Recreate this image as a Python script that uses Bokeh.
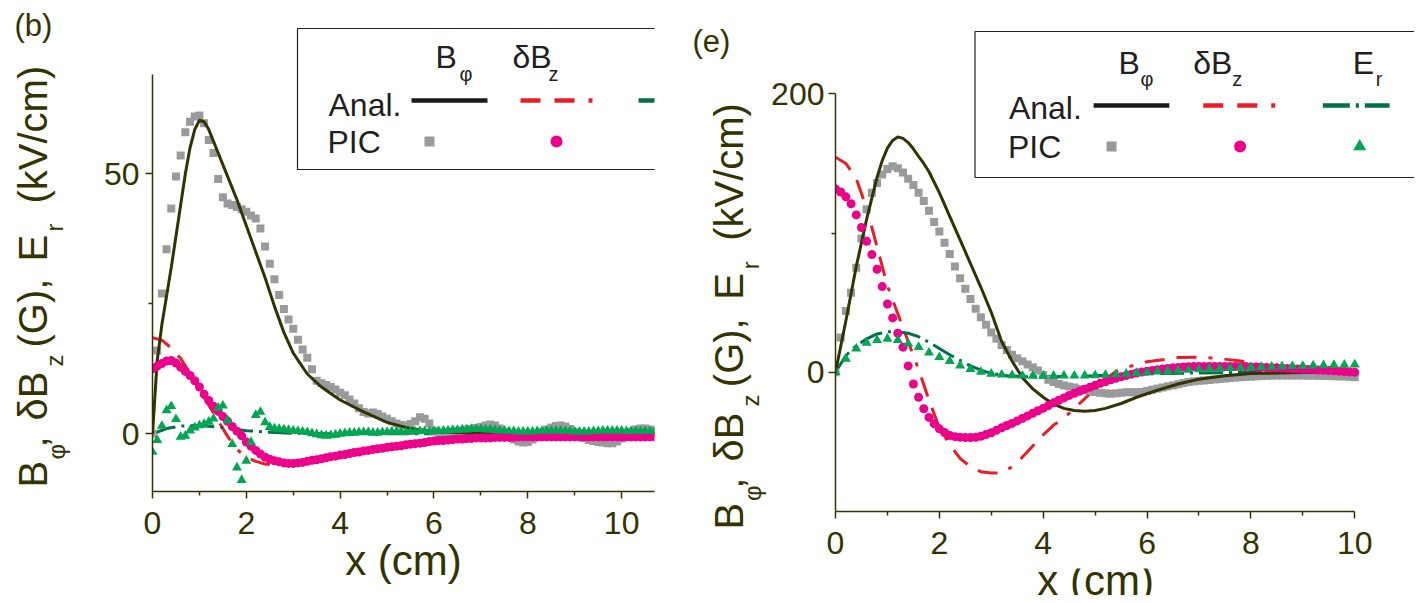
import numpy as np
from bokeh.plotting import figure
from bokeh.models import Range1d, FixedTicker
from bokeh.layouts import row, column
from bokeh.embed import file_html
from bokeh.resources import INLINE
from bokeh.core.properties import value

FONT = "Liberation Sans"
OLIVE = "#333300"
INK = "#231f20"
GRAY = "#999a9c"
MAGENTA = "#ec008c"
GREEN = "#00a651"
DKGREEN = "#00704a"
RED = "#ed1c24"

# ---------------- panel (b) data ----------------
b_anal_x_bphi = [0, 0.1, 0.2, 0.3, 0.4, 0.5, 0.6, 0.7, 0.8, 0.9, 1.0, 1.1, 1.2, 1.4, 1.6, 1.8, 2.0, 2.2,
                 2.4, 2.6, 2.8, 3.0, 3.3, 3.6, 4.0, 4.5, 5.0, 5.5, 6.0, 7.0, 8.0, 10.7]
b_anal_bphi = [0, 14, 21, 26.5, 32, 38, 44, 50, 55, 58.5, 60.3, 60, 58.5, 54, 49.5, 45, 40, 35,
               30, 24.5, 19.5, 15.5, 11.5, 9, 6.5, 4.2, 2.2, 1.0, 0.4, 0.1, 0, 0]
b_anal_x_dbz = [0, 0.2, 0.4, 0.6, 0.8, 1.0, 1.2, 1.4, 1.6, 1.8, 2.0, 2.2, 2.4, 2.6, 2.8, 3.0, 3.5,
                4.0, 4.5, 5.0, 6.0, 7.0, 8.0, 9.0, 10.0, 10.7]
b_anal_dbz = [18.5, 18, 16.5, 14.5, 11.5, 8.5, 5.5, 2.5, -0.5, -3, -4.5, -5.3, -5.8, -6.0, -6.0, -5.8,
              -5.0, -4.0, -3.0, -2.2, -1.2, -0.6, -0.3, -0.1, 0, 0]
b_anal_x_er = [0, 0.3, 0.6, 1.0, 1.5, 2.0, 2.5, 3.0, 4.0, 5.0, 6.0, 8.0, 10.7]
b_anal_er = [0, 1.0, 1.5, 1.6, 1.2, 0.6, 0.3, 0.1, 0, 0, 0, 0, 0]

# PIC samples every 0.1 cm from x = 0
b_pic_bphi = [0, 16, 27, 35.5, 43.3, 49.5, 53.5, 58, 60, 61, 61.2, 59.7, 56.5, 54, 49, 45.5, 44.3, 44,
              43.6, 43.2, 42.7, 42, 41.4, 39.5, 36, 32.7, 29.7, 26.7, 24, 22, 20.2, 18.1, 16.2, 14.6,
              12.4, 10.2, 9.7, 9.4, 9.0, 8.5, 7.9, 7.4, 6.6, 5.8, 4.9, 4.2, 3.9, 4.1, 3.8, 3.3, 2.9,
              2.4, 2.0, 1.7, 1.6, 1.9, 2.4, 3.2, 2.9, 2.0, 0.6, 0.2, 0.2, 0.3, 0.4, 0.5, 0.6, 0.8, 0.9,
              1.1, 1.3, 1.6, 1.8, 1.6, 1.0, 0.3, -0.5, -1.1, -1.5, -1.7, -1.6, -1.1, -0.4, 0.3, 0.8,
              1.2, 1.5, 1.6, 1.4, 0.9, 0.3, -0.3, -0.8, -1.2, -1.4, -1.6, -1.7, -1.8, -1.8, -1.5,
              -0.9, -0.2, 0.4, 0.8, 1.0, 1.0, 0.8, 0.6]
b_pic_dbz = [12.5, 13.0, 13.5, 14.0, 14.1, 13.6, 12.8, 12.0, 11.2, 10.2, 9.0, 7.6, 6.4, 5.3, 4.3, 3.3,
             2.4, 1.4, 0.5, -0.4, -1.6, -2.4, -3.2, -3.9, -4.5, -4.9, -5.2, -5.4, -5.6, -5.7, -5.7,
             -5.6, -5.5, -5.3, -5.1, -5.0, -4.8, -4.6, -4.4, -4.3, -4.1, -4.0, -3.8, -3.6, -3.5, -3.3,
             -3.2, -3.0, -2.9, -2.8, -2.6, -2.5, -2.4, -2.3, -2.1, -2.0, -1.9, -1.8, -1.7, -1.5, -1.4,
             -1.3, -1.3, -1.2, -1.1, -1.0, -1.0, -0.9, -0.9, -0.8, -0.8, -0.8, -0.8, -0.7, -0.7, -0.7,
             -0.7, -0.7, -0.6, -0.6, -0.6, -0.6, -0.6, -0.6, -0.6, -0.6, -0.6, -0.6, -0.6, -0.6, -0.6,
             -0.6, -0.6, -0.6, -0.6, -0.6, -0.6, -0.6, -0.6, -0.6, -0.6, -0.6, -0.6, -0.6, -0.6, -0.6,
             -0.6, -0.6]
b_pic_er = [-3.5, -1.2, 1.5, 4.5, 5.3, 2.8, -0.6, -0.4, 0.6, 1.2, 1.6, 1.9, 2.3, 2.9, 5.0, 5.4, 2.6,
            -2.0, -6.5, -8.9, -5.2, -1.6, 3.6, 4.2, 2.2, 1.3, 1.0, 0.9, 0.8, 0.7, 0.6, 0.5, 0.4, 0.3,
            0.1, -0.1, -0.3, -0.4, -0.3, -0.2, 0.0, 0.1, 0.2, 0.2, 0.3, 0.3, 0.3, 0.2, 0.2, 0.3, 0.3,
            0.4, 0.4, 0.3, 0.3, 0.4, 0.4, 0.5, 0.5, 0.4, 0.5, 0.5, 0.6, 0.6, 0.7, 0.7, 0.8, 0.8, 0.9,
            0.9, 0.9, 0.8, 0.8, 0.7, 0.6, 0.6, 0.5, 0.5, 0.4, 0.4, 0.4, 0.4, 0.5, 0.5, 0.6, 0.6, 0.6,
            0.6, 0.5, 0.5, 0.4, 0.4, 0.4, 0.4, 0.5, 0.5, 0.6, 0.6, 0.6, 0.6, 0.6, 0.5, 0.5, 0.5, 0.5,
            0.5, 0.5, 0.5]

# ---------------- panel (e) data ----------------
e_anal_x_bphi = [0, 0.2, 0.4, 0.6, 0.8, 0.9, 1.0, 1.1, 1.2, 1.3, 1.4, 1.5, 1.6, 1.7, 1.8, 2.0, 2.2, 2.4,
                 2.6, 2.8, 3.0, 3.2, 3.4, 3.6, 3.8, 4.0, 4.2, 4.4, 4.6, 4.8, 5.0, 5.2, 5.5, 5.8, 6.2,
                 6.6, 7.0, 7.5, 8.0, 9.0, 10.0]
e_anal_bphi = [0, 37, 76, 110, 140, 152, 161, 166.5, 169, 168, 165, 160.5, 155, 150, 144, 129, 112, 95,
               78, 61, 43, 22, 8, -4, -12, -18, -23, -26, -27.5, -28, -27.5, -26, -22.5, -18, -13,
               -8.5, -5, -2.5, -1, -0.3, 0]
e_anal_x_dbz = [0, 0.2, 0.4, 0.6, 0.8, 1.0, 1.2, 1.4, 1.6, 1.8, 2.0, 2.2, 2.4, 2.6, 2.8, 3.0, 3.2, 3.4,
                3.6, 3.8, 4.0, 4.2, 4.4, 4.6, 4.8, 5.0, 5.2, 5.4, 5.6, 5.8, 6.0, 6.3, 6.6, 7.0, 7.4, 7.8,
                8.2, 8.6, 9.0, 9.5, 10.0]
e_anal_dbz = [154.5, 150, 139, 118, 90, 62, 42, 22, 2, -20, -40, -52, -62, -68, -71.5, -72.5, -72.5,
              -68, -61, -53, -45, -38, -33, -26, -19, -12, -5, 0.5, 3.5, 5.5, 7.5, 9, 10.5, 10.8, 9.8,
              8, 5, 3, 1.5, 0.5, 0]
e_anal_x_er = [0, 0.2, 0.4, 0.6, 0.8, 1.0, 1.2, 1.4, 1.6, 1.8, 2.0, 2.2, 2.4, 2.6, 2.8, 3.0, 3.3, 3.6,
               4.0, 4.5, 5.0, 5.5, 6.0, 7.0, 8.0, 9.0, 10.0]
e_anal_er = [0, 12, 19, 24, 27.5, 29, 29, 28, 25.5, 21.5, 17, 12.5, 8.5, 4.5, 1.5, -1, -2.5, -3.2,
             -3.3, -3, -2.5, -1.8, -1.2, -0.5, -0.2, 0, 0]

# PIC samples every 0.1 cm (B_phi, dB_z) and every 0.2 cm (E_r)
e_pic_bphi = [0, 25, 44, 57, 75, 96, 117, 129, 136, 142, 146, 148, 146.5, 143.5, 139, 134.5, 129, 123,
              116, 108, 101, 93, 85, 76, 67.5, 60, 52.5, 45.5, 39.5, 34, 28.5, 24, 19.5, 16, 12.5, 10,
              7.8, 5.5, 3.5, 1.2, -2, -5.5, -7, -8.5, -9.5, -10.3, -11, -12, -12.8, -13.5, -14.3,
              -14.8, -15.2, -15.5, -15.2, -14.8, -14.4, -14.4, -14.4, -14.2, -13.5, -12.6, -11.8, -11,
              -10.2, -9.5, -8.7, -7.8, -7.1, -6.6, -6.2, -5.9, -5.6, -5.2, -4.9, -4.6, -4.2, -3.9, -3.6,
              -3.4, -3.2, -3.0, -2.8, -2.6, -2.5, -2.4, -2.4, -2.4, -2.4, -2.4, -2.4, -2.5, -2.5, -2.6,
              -2.7, -2.8, -2.9, -3.0, -3.1, -3.3, -3.6]
e_pic_dbz = [131.7, 129.5, 126, 121, 113, 104, 94, 84.5, 74, 61.5, 49, 39, 28, 18, 4.5, -8.5, -18,
             -26.3, -32.5, -37, -40.7, -43.3, -45.5, -46.3, -46.7, -47, -47, -46.8, -46, -44.8, -43.5,
             -41.8, -40, -38.3, -36.8, -35, -33.2, -31.4, -29.5, -27.7, -26, -24, -22, -20.2, -18.5,
             -16.7, -15.2, -13.7, -12.2, -10.8, -9.4, -8, -6.8, -5.5, -4.4, -3.3, -2.3, -1.4, -0.6, 0.1,
             0.7, 1.3, 1.8, 2.3, 2.7, 3.1, 3.4, 3.7, 3.9, 4.0, 4.1, 4.1, 4.1, 4.1, 4.1, 4.1, 4.1, 4.1,
             4.1, 4.1, 3.8, 3.7, 3.5, 3.4, 3.2, 3.1, 2.9, 2.7, 2.5, 2.3, 2.1, 2.0, 1.8, 1.6, 1.4, 1.2,
             1.0, 0.7, 0.5, 0.2, 0]
e_pic_er = [0, 9.5, 17, 21, 23, 24, 23, 20.5, 18, 14, 10.8, 8, 4.8, 2.2, 0.2, -1.2, -1.8, -2.2, -2.5,
            -2.6, -2.6, -2.6, -2.5, -2.5, -2.4, -2.3, -2.0, -1.6, -1.2, -0.6, -0.2, 0.4, 0.8, 1.2, 1.6,
            2.0, 2.4, 2.6, 2.9, 3.2, 3.5, 3.7, 3.9, 4.1, 4.3, 4.5, 4.7, 4.9, 5.1, 5.3, 5.5]

x_ticks = [0, 2, 4, 6, 8, 10]
x_minor = [1, 3, 5, 7, 9]
H = 595


def grid(vals, step):
    return np.round(np.arange(len(vals)) * step, 3)


def make_fig(width, height, xr, yr, ybounds, xbounds, borders, px, py, yticks, yminor):
    p = figure(width=width, height=height, x_range=Range1d(*xr), y_range=Range1d(*yr),
               output_backend="svg", toolbar_location=None,
               min_border_left=borders[0], min_border_right=borders[1],
               min_border_top=borders[2], min_border_bottom=borders[3])
    p.extra_x_ranges = {"px": Range1d(*px)}
    p.extra_y_ranges = {"py": Range1d(*py)}
    p.grid.visible = False
    p.outline_line_color = None
    p.background_fill_color = "white"
    p.border_fill_color = "white"
    p.xaxis.ticker = FixedTicker(ticks=x_ticks, minor_ticks=x_minor)
    p.yaxis.ticker = FixedTicker(ticks=yticks, minor_ticks=yminor)
    p.yaxis.bounds = ybounds
    if xbounds is not None:
        p.xaxis.bounds = xbounds
    for ax in (p.xaxis, p.yaxis):
        ax.axis_line_color = OLIVE
        ax.axis_line_width = 1.5
        ax.major_tick_line_color = OLIVE
        ax.major_tick_line_width = 1.5
        ax.minor_tick_line_color = OLIVE
        ax.minor_tick_line_width = 1.5
        ax.major_tick_out = 7
        ax.major_tick_in = 0
        ax.minor_tick_out = 4
        ax.minor_tick_in = 0
        ax.major_label_text_font = FONT
        ax.major_label_text_font_size = "32px"
        ax.major_label_text_color = OLIVE
    p.yaxis.major_label_standoff = 6
    return p


def text_fig(x0, x1, y0, y1, borders=(0, 0, 0, 0)):
    w = x1 - x0 + borders[0] + borders[1]
    h = y1 - y0 + borders[2] + borders[3]
    t = figure(width=w, height=h, x_range=Range1d(x0, x1), y_range=Range1d(y1, y0),
               output_backend="svg", toolbar_location=None,
               min_border_left=borders[0], min_border_right=borders[1],
               min_border_top=borders[2], min_border_bottom=borders[3],
               x_axis_type=None, y_axis_type=None)
    t.grid.visible = False
    t.outline_line_color = None
    t.background_fill_color = "white"
    t.border_fill_color = "white"
    return t


def txt(p, x, y, text, size, angle=0.0, align="left", color=OLIVE, **kw):
    # (x, y): baseline point in reference pixels; drawn with a 'middle' baseline
    off = 0.32 * size
    if angle:
        x = x - off
    else:
        y = y - off
    p.text(x=[x], y=[y], text=[text], angle=angle, text_font=value(FONT),
           text_font_size=value(f"{size}px"), text_color=color, text_align=align,
           text_baseline="middle", **kw)


# y-axis title pieces: (text, font px, start position along the axis, offset from baseline)
title_pieces = [("B", 40, 487, 0), ("\u03c6", 24, 459, 19), (",", 40, 447, 0), ("\u03b4B", 40, 420, 0),
                ("z", 24, 366, 17), ("(G),", 40, 347, 0), ("E", 40, 261, 0), ("r", 24, 231, 17),
                ("(kV/cm)", 40, 203, 0)]


def ytitle(t, base, shift, stretch):
    a = np.pi / 2
    for s_, size, y0, dx in title_pieces:
        yy = y0 + shift - (487 - y0) * stretch
        txt(t, base + dx, yy, s_, size, angle=a)


def draw(p, ax_b, yb, ax_d, yd, ax_e, ye, pb, pd, pe, er_step):
    p.line(ax_d, yd, line_color=RED, line_width=3, line_dash="20 12 20 12 4 12")
    p.line(ax_e, ye, line_color=DKGREEN, line_width=3, line_dash="24 6 3 6")
    p.scatter(grid(pb, 0.1), pb, marker="square", size=8, fill_color=GRAY, line_color=None)
    p.line(ax_b, yb, line_color=OLIVE, line_width=3)
    p.scatter(grid(pd, 0.1), pd, marker="circle", size=9, fill_color=MAGENTA, line_color=None)
    p.scatter(grid(pe, er_step), pe, marker="triangle", size=10, fill_color=GREEN, line_color=None)


def legend(p, L, T, B, o, show_er_head=True):
    kw = dict(x_range_name="px", y_range_name="py")
    p.quad(left=[L], right=[L + 470], top=[T], bottom=[B], fill_color="white",
           line_color=INK, line_width=1.2, **kw)
    txt(p, L + o["anal"][0], T + o["anal"][1], "Anal.", 32, color=INK, **kw)
    txt(p, L + o["pic"][0], T + o["pic"][1], "PIC", 32, color=INK, **kw)
    txt(p, L + o["hB"][0], T + o["hB"][1], "B", 32, color=INK, **kw)
    txt(p, L + o["hphi"][0], T + o["hphi"][1], "\u03c6", 20, color=INK, **kw)
    txt(p, L + o["hdB"][0], T + o["hdB"][1], "\u03b4B", 32, color=INK, **kw)
    txt(p, L + o["hz"][0], T + o["hz"][1], "z", 20, color=INK, **kw)
    if show_er_head:
        txt(p, L + o["hE"][0], T + o["hE"][1], "E", 32, color=INK, **kw)
        txt(p, L + o["hr"][0], T + o["hr"][1], "r", 20, color=INK, **kw)
    x0, x1, yy = o["l1"]
    p.line([L + x0, L + x1], [T + yy, T + yy], line_color="#1a1a1a", line_width=4.5, **kw)
    x0, x1, yy = o["l2"]
    p.line([L + x0, L + x1], [T + yy, T + yy], line_color=RED, line_width=4.5,
           line_dash="20 14 20 14 4 14", **kw)
    x0, x1, yy = o["l3"]
    p.line([L + x0, L + x1], [T + yy, T + yy], line_color=DKGREEN, line_width=4.5,
           line_dash="27 6 3 6", **kw)
    m1, m2, m3, my = o["m"]
    p.scatter([L + m1], [T + my], marker="square", size=10, fill_color=GRAY, line_color=None, **kw)
    p.scatter([L + m2], [T + my], marker="circle", size=12, fill_color=MAGENTA, line_color=None, **kw)
    p.scatter([L + m3], [T + my], marker="triangle", size=13, fill_color=GREEN, line_color=None, **kw)


# ---------------- left side: title strip + panel (b) ----------------
# both share top border 10 and bottom border 104 (frames aligned: y 10..491)
t1 = text_fig(0, 90, 10, 491, borders=(0, 0, 10, 104))
txt(t1, 14, 35, "(b)", 31)
ytitle(t1, 45, 0, 0.0)

p1 = make_fig(600, H, (0, 10.7), (-11.1, 81.4), (-11.1, 69), None, (62, 36, 10, 104),
              (152, 654), (491, 10), [0, 50], [25])
p1.xaxis.major_label_standoff = 13
p1.xaxis.axis_label = "x (cm)"
p1.xaxis.axis_label_text_font = FONT
p1.xaxis.axis_label_text_font_size = "42px"
p1.xaxis.axis_label_text_font_style = "normal"
p1.xaxis.axis_label_text_color = OLIVE
p1.xaxis.axis_label_standoff = 0
draw(p1, b_anal_x_bphi, b_anal_bphi, b_anal_x_dbz, b_anal_dbz, b_anal_x_er, b_anal_er,
     b_pic_bphi, b_pic_dbz, b_pic_er, 0.1)
legend(p1, 297, 28, 169, dict(anal=(31, 87), pic=(30, 124), hB=(138, 39), hphi=(162, 52), hdB=(215, 39),
                              hz=(251, 52), hE=(379, 39), hr=(401, 52), l1=(114, 190, 72),
                              l2=(223, 299, 72), l3=(341, 417, 72), m=(132, 259, 386, 113)),
       show_er_head=False)

# ---------------- right side: title strip + panel (e) ----------------
t2 = text_fig(690, 768, 0, H)
txt(t2, 692, 51, "(e)", 31)
ytitle(t2, 741, 42, 0.0165)

p2 = make_fig(646, 568, (0, 581 / 52.1), (-100.1, 252.7), (-100.1, 200), (0, 10), (65, 0, 20, 57),
              (833, 1414), (511, 20), [0, 200], [100])
p2.yaxis.major_label_standoff = 4
p2.xaxis.major_label_standoff = 13
draw(p2, e_anal_x_bphi, e_anal_bphi, e_anal_x_dbz, e_anal_dbz, e_anal_x_er, e_anal_er,
     e_pic_bphi, e_pic_dbz, e_pic_er, 0.2)
legend(p2, 973, 31, 177, dict(anal=(34, 87), pic=(33, 126), hB=(144, 42), hphi=(166, 54), hdB=(219, 42),
                              hz=(258, 54), hE=(379, 42), hr=(402, 54), l1=(119, 195, 74),
                              l2=(229, 305, 74), l3=(349, 416, 74), m=(137, 266, 386, 115)))

# x-axis title strip under panel (e); its frame is aligned with the frame of panel (e)
xt2 = text_fig(833, 1414, 568, H, borders=(65, 0, 0, 0))
txt(xt2, 1094, 593, "x (cm)", 42, align="center")

layout = row(row(t1, p1), row(t2, column(p2, xt2)))
open("out.html", "w").write(file_html(layout, INLINE))
